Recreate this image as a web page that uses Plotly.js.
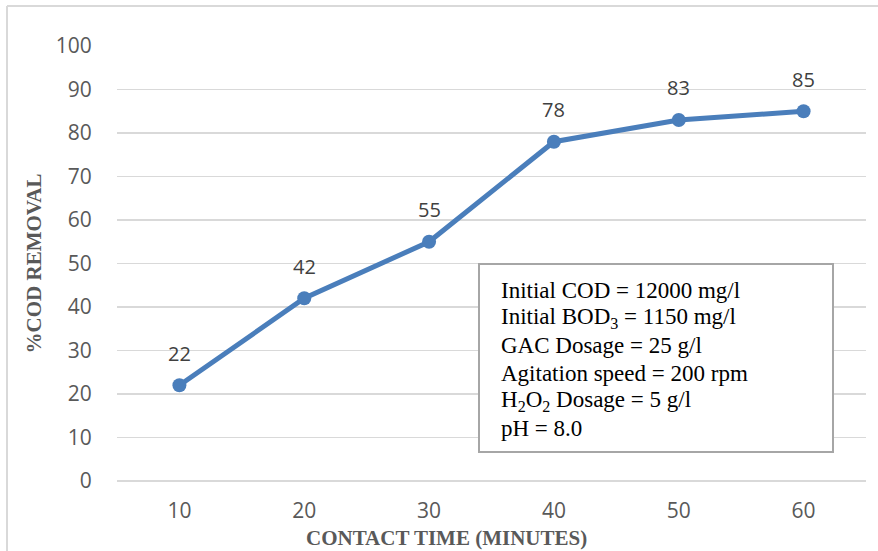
<!DOCTYPE html>
<html>
<head>
<meta charset="utf-8">
<script src="https://cdn.plot.ly/plotly-3.0.1.min.js"></script>
<style>html,body{margin:0;padding:0;background:#fff;}#chart{width:878px;height:551px;}</style>
</head>
<body>
<div id="chart"></div>
<script>
const contactTime = ['10', '20', '30', '40', '50', '60'];
const codRemoval = [22, 42, 55, 78, 83, 85];
const yTicks = [0, 10, 20, 30, 40, 50, 60, 70, 80, 90, 100];
const xTitle = 'CONTACT TIME (MINUTES)';
const yTitle = '%COD REMOVAL';
const infoLines = [
  'Initial COD = 12000 mg/l',
  'Initial BOD<sub>3</sub> = 1150 mg/l',
  'GAC Dosage = 25 g/l',
  'Agitation speed = 200 rpm',
  'H<sub>2</sub>O<sub>2</sub> Dosage = 5 g/l',
  'pH = 8.0'
];

const W = 878, H = 551;
const L = 117, R = 12, T = 46, B = 70;
const pw = W - L - R, ph = H - T - B;
const px = x => (x - L) / pw;
const py = y => (H - B - y) / ph;

const blue = '#4a7ebb';
const tickFont = {family: 'Open Sans, sans-serif', size: 21, color: '#595959'};
const titleFont = {family: 'Liberation Serif, Times New Roman, serif', size: 21, color: '#595959', weight: 'bold'};

const trace = {
  x: contactTime,
  y: codRemoval,
  type: 'scatter',
  mode: 'lines+markers',
  line: {color: blue, width: 5},
  marker: {color: blue, size: 14},
  hoverinfo: 'x+y'
};

const annotations = codRemoval.map((v, i) => ({
  x: i, y: v, xref: 'x', yref: 'y',
  text: String(v), showarrow: false, yshift: 32,
  font: {family: 'Open Sans, sans-serif', size: 20, color: '#404040'}
}));

annotations.push({
  x: px(446), y: py(538), xref: 'paper', yref: 'paper',
  xanchor: 'center', yanchor: 'middle', text: xTitle, showarrow: false,
  font: titleFont
});

const lineY = [290, 318, 345, 373, 401, 428];
infoLines.forEach((t, i) => {
  annotations.push({
    x: px(499), y: py(lineY[i]), xref: 'paper', yref: 'paper',
    xanchor: 'left', yanchor: 'middle', text: t, showarrow: false, align: 'left',
    font: {family: 'Liberation Serif, Times New Roman, serif', size: 23, color: '#000'}
  });
});

const layout = {
  width: W, height: H,
  margin: {l: L, r: R, t: T, b: B},
  paper_bgcolor: '#fff', plot_bgcolor: '#fff',
  showlegend: false,
  xaxis: {
    type: 'category',
    showgrid: false, zeroline: false, showline: false,
    ticks: 'outside', ticklen: 11, tickcolor: 'rgba(0,0,0,0)',
    tickfont: tickFont,
    range: [-0.5, 5.5]
  },
  yaxis: {
    range: [0, 100],
    tickvals: yTicks,
    showgrid: true, gridcolor: '#d9d9d9', gridwidth: 1.5,
    zeroline: true, zerolinecolor: '#d9d9d9', zerolinewidth: 1.5,
    showline: false,
    ticks: 'outside', ticklen: 20, tickcolor: 'rgba(0,0,0,0)',
    tickfont: tickFont,
    title: {text: yTitle, standoff: 8, font: titleFont}
  },
  shapes: [
    {type: 'rect', xref: 'paper', yref: 'paper', x0: px(479), x1: px(833), y0: py(452), y1: py(264),
      line: {color: '#a6a6a6', width: 2}, fillcolor: '#fff', layer: 'above'},
    {type: 'line', xref: 'paper', yref: 'paper', x0: px(7), x1: px(7), y0: py(551), y1: py(6),
      line: {color: '#d9d9d9', width: 2}},
    {type: 'line', xref: 'paper', yref: 'paper', x0: px(7), x1: px(878), y0: py(6), y1: py(6),
      line: {color: '#d9d9d9', width: 2}}
  ],
  annotations: annotations
};

Plotly.newPlot('chart', [trace], layout, {displayModeBar: false, staticPlot: true});
</script>
</body>
</html>
